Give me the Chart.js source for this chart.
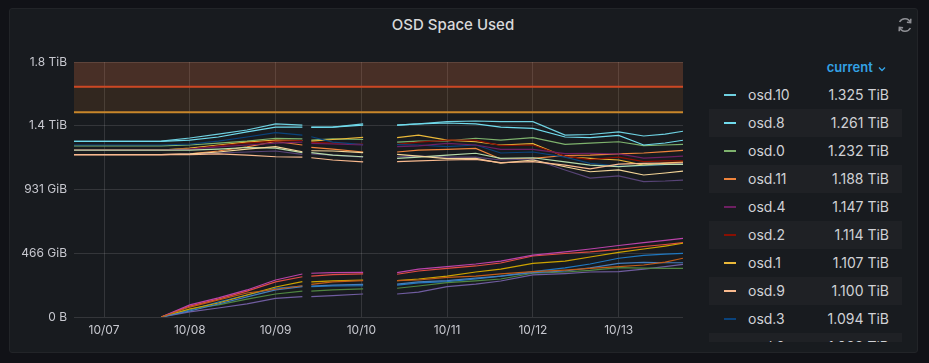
<!DOCTYPE html>
<html lang="en">
<head>
<meta charset="UTF-8">
<title>OSD Space Used</title>
<script src="https://cdn.jsdelivr.net/npm/chart.js"></script>
<style>
  html, body { margin: 0; padding: 0; width: 929px; height: 363px; overflow: hidden; background: #111217; font-family: Inter, "Noto Sans", sans-serif; }
  .panel { position: absolute; left: 9px; top: 8px; width: 907px; height: 343px; background: #181b1f; border: 1px solid #222428; border-radius: 3px; }
  .title { position: absolute; left: 0; top: 15px; width: 906px; height: 20px; line-height: 20px; text-align: center; color: #d8d9da; font-size: 15px; font-weight: 500; }
  .refresh { position: absolute; left: 896px; top: 16px; }
  canvas { position: absolute; left: 0; top: 0; }
  .legend { position: absolute; left: 709px; top: 53px; width: 193px; height: 289px; overflow: hidden; color: #d0d1d6; font-size: 14px; }
  .legend .head { height: 28px; line-height: 28px; text-align: right; padding-right: 16px; color: #33a2e5; font-size: 13px; font-weight: 600; }
  .legend .row { position: relative; height: 28px; line-height: 28px; }
  .legend .row.alt { background: #1f2125; }
  .legend .sw { position: absolute; left: 15px; top: 13px; width: 12px; height: 2px; }
  .legend .name { position: absolute; left: 39px; }
  .legend .val { position: absolute; right: 13px; }
</style>
</head>
<body>
<div class="panel"></div>
<div class="title">OSD Space Used</div>
<svg class="refresh" width="18" height="18" viewBox="0 0 18 18" fill="none" stroke="#8e8f94" stroke-width="1.6">
  <path d="M14.5 6.5 A6 6 0 0 0 3.6 6" />
  <path d="M3.5 11.5 A6 6 0 0 0 14.4 12" />
  <path d="M14.8 2.8 L14.6 6.6 L10.9 6.2" />
  <path d="M3.2 15.2 L3.4 11.4 L7.1 11.8" />
</svg>
<canvas id="chart" width="700" height="363"></canvas>
<div class="legend" id="legend"></div>

<script>
// hours since 10/07 00:00
const times = [-8.4, 4, 16, 24, 32, 40, 48, 55.5, 56.7, 58, 64, 72.5, 77, 82, 88, 96, 104, 111, 120, 129, 136, 144, 151, 157, 162];

// values in TiB, null = no data
const osd0  = [1.220, 1.220, 1.220, 1.227, 1.241, 1.255, 1.275, 1.270, null, 1.262, 1.270, 1.266, null, 1.248, 1.255, 1.257, 1.275, 1.262, 1.280, 1.232, 1.241, 1.250, 1.222, 1.227, 1.232];
const osd1  = [1.191, 1.191, 1.191, 1.205, 1.227, 1.248, 1.262, 1.259, null, 1.255, 1.266, 1.282, null, 1.279, 1.298, 1.262, 1.250, 1.227, 1.237, 1.143, 1.132, 1.120, 1.084, 1.098, 1.107];
const osd10 = [1.253, 1.253, 1.255, 1.277, 1.305, 1.334, 1.377, 1.369, null, 1.355, 1.355, 1.377, null, 1.369, 1.377, 1.393, 1.398, 1.393, 1.393, 1.298, 1.302, 1.320, 1.291, 1.305, 1.325];
const osd11 = [1.158, 1.158, 1.158, 1.163, 1.184, 1.213, 1.252, 1.227, null, 1.210, 1.198, 1.177, null, 1.177, 1.191, 1.196, 1.203, 1.127, 1.132, 1.152, 1.155, 1.163, 1.170, 1.180, 1.188];
const osd12 = [null, null, 0, 0.078, 0.128, 0.185, 0.250, 0.287, null, 0.292, 0.302, 0.307, null, 0.305, 0.328, 0.347, 0.364, 0.385, 0.435, 0.453, 0.464, 0.483, 0.503, 0.517, 0.530];
const osd13 = [null, null, 0, 0.050, 0.107, 0.157, 0.205, 0.221, null, 0.216, 0.221, 0.223, null, 0.228, 0.243, 0.252, 0.271, 0.292, 0.323, 0.350, 0.378, 0.419, 0.439, 0.449, 0.454];
const osd14 = [null, null, 0, 0.086, 0.136, 0.193, 0.264, 0.307, null, 0.312, 0.316, 0.319, null, 0.316, 0.342, 0.359, 0.378, 0.399, 0.442, 0.464, 0.485, 0.510, 0.531, 0.546, 0.561];
const osd15 = [null, null, 0, 0.036, 0.064, 0.093, 0.133, 0.145, null, 0.145, 0.153, 0.164, null, 0.164, 0.178, 0.216, 0.235, 0.257, 0.300, 0.310, 0.321, 0.323, 0.342, 0.360, 0.376];
const osd16 = [null, null, 0, 0.057, 0.086, 0.128, 0.164, 0.185, null, 0.185, 0.193, 0.200, null, 0.205, 0.221, 0.245, 0.257, 0.271, 0.312, 0.321, 0.332, 0.352, 0.349, 0.347, 0.347];
const osd17 = [null, null, 0, 0.057, 0.100, 0.157, 0.214, 0.252, null, 0.250, 0.257, 0.264, null, 0.259, 0.271, 0.292, 0.321, 0.342, 0.383, 0.399, 0.428, 0.461, 0.485, 0.506, 0.526];
const osd18 = [null, null, 0, 0.043, 0.093, 0.143, 0.193, 0.216, null, 0.221, 0.228, 0.233, null, 0.235, 0.250, 0.260, 0.278, 0.292, 0.317, 0.328, 0.350, 0.383, 0.389, 0.387, 0.387];
const osd19 = [null, null, 0, 0.071, 0.121, 0.171, 0.198, 0.223, null, 0.233, 0.250, 0.259, null, 0.259, 0.264, 0.283, 0.292, 0.307, 0.323, 0.335, 0.347, 0.359, 0.371, 0.392, 0.419];
const osd2  = [1.191, 1.191, 1.191, 1.198, 1.220, 1.241, 1.255, 1.259, null, 1.246, 1.241, 1.234, null, 1.232, 1.248, 1.262, 1.262, 1.223, 1.227, 1.148, 1.123, 1.141, 1.108, 1.113, 1.114];
const osd3  = [1.227, 1.227, 1.227, 1.234, 1.255, 1.284, 1.315, 1.298, null, 1.286, 1.248, 1.230, null, 1.230, 1.227, 1.215, 1.227, 1.170, 1.177, 1.141, 1.096, 1.077, 1.077, 1.087, 1.094];
const osd4  = [1.191, 1.191, 1.191, 1.198, 1.213, 1.227, 1.241, 1.248, null, 1.239, 1.234, 1.227, null, 1.215, 1.220, 1.239, 1.227, 1.196, 1.196, 1.166, 1.168, 1.163, 1.134, 1.141, 1.147];
const osd5  = [1.158, 1.158, 1.158, 1.163, 1.170, 1.177, 1.184, 1.160, null, 1.163, 1.155, 1.141, null, 1.143, 1.148, 1.141, 1.141, 1.120, 1.127, 1.049, 0.991, 1.006, 0.966, 0.970, 0.977];
const osd6  = [1.191, 1.191, 1.191, 1.191, 1.198, 1.209, 1.205, 1.172, null, 1.172, 1.155, 1.143, null, 1.132, 1.141, 1.155, 1.168, 1.132, 1.136, 1.106, 1.084, 1.072, 1.084, 1.088, 1.088];
const osd7  = [1.158, 1.158, 1.158, 1.163, 1.177, 1.198, 1.215, 1.179, null, 1.186, 1.184, 1.172, null, 1.160, 1.148, 1.130, 1.132, 1.098, 1.120, 1.072, 1.036, 1.049, 1.013, 1.027, 1.041];
const osd8  = [1.253, 1.253, 1.253, 1.262, 1.284, 1.320, 1.355, 1.355, null, 1.353, 1.355, 1.369, null, 1.369, 1.377, 1.384, 1.377, 1.355, 1.346, 1.284, 1.280, 1.295, 1.227, 1.241, 1.261];
const osd9  = [1.158, 1.158, 1.158, 1.158, 1.163, 1.155, 1.143, 1.141, null, 1.136, 1.120, 1.106, null, 1.108, 1.113, 1.120, 1.125, 1.101, 1.108, 1.084, 1.056, 1.091, 1.096, 1.098, 1.100];

const seriesNames = ['osd.0', 'osd.1', 'osd.10', 'osd.11', 'osd.12', 'osd.13', 'osd.14', 'osd.15', 'osd.16', 'osd.17',
                     'osd.18', 'osd.19', 'osd.2', 'osd.3', 'osd.4', 'osd.5', 'osd.6', 'osd.7', 'osd.8', 'osd.9'];
const seriesValues = [osd0, osd1, osd10, osd11, osd12, osd13, osd14, osd15, osd16, osd17,
                      osd18, osd19, osd2, osd3, osd4, osd5, osd6, osd7, osd8, osd9];
const seriesColors = ['#7EB26D', '#EAB839', '#6ED0E0', '#EF843C', '#E24D42', '#1F78C1', '#BA43A9', '#705DA0', '#508642', '#CCA300',
                      '#447EBC', '#C15C17', '#890F02', '#0A437C', '#6D1F62', '#584477', '#B7DBAB', '#F4D598', '#70DBED', '#F9BA8F'];

// thresholds (TiB)
const warnLevel = 1.460;
const critLevel = 1.643;

// axes
const xMin = -8.4, xMax = 162;
const dayHours  = [0, 24, 48, 72, 96, 120, 144];
const dayLabels = ['10/07', '10/08', '10/09', '10/10', '10/11', '10/12', '10/13'];
const yTickBytes  = [0, 500e9, 1000e9, 1500e9, 2000e9];
const yTickLabels = ['0 B', '466 GiB', '931 GiB', '1.4 TiB', '1.8 TiB'];
const TIB = Math.pow(2, 40);

const datasets = [];
datasets.push({
    label: 'critical',
    data: [{ x: xMin, y: critLevel }, { x: xMax, y: critLevel }],
    borderColor: '#cc4524', borderWidth: 2,
    backgroundColor: 'rgba(247,118,63,0.22)', fill: 'end',
    pointRadius: 0, order: 100
});
datasets.push({
    label: 'warning',
    data: [{ x: xMin, y: warnLevel }, { x: xMax, y: warnLevel }],
    borderColor: '#c8862a', borderWidth: 2,
    backgroundColor: 'rgba(241,135,31,0.12)', fill: 0,
    pointRadius: 0, order: 99
});
seriesNames.forEach((name, i) => {
    datasets.push({
        label: name,
        data: times.map((t, k) => ({ x: t, y: seriesValues[i][k] })),
        borderColor: seriesColors[i],
        borderWidth: 1.2,
        pointRadius: 0,
        fill: false,
        tension: 0,
        spanGaps: false,
        order: 50 - i
    });
});

Chart.defaults.font.family = 'Inter, "Noto Sans", sans-serif';
Chart.defaults.font.size = 12;
Chart.defaults.color = '#c7c8cf';

const gridColor = 'rgba(255,255,255,0.12)';

new Chart(document.getElementById('chart').getContext('2d'), {
    type: 'line',
    data: { datasets: datasets },
    options: {
        responsive: false,
        devicePixelRatio: 1,
        animation: false,
        layout: { padding: { left: 0, right: 17, top: 62, bottom: 0 } },
        plugins: { legend: { display: false }, tooltip: { enabled: false } },
        scales: {
            x: {
                type: 'linear', min: xMin, max: xMax,
                afterBuildTicks: (scale) => { scale.ticks = dayHours.map(v => ({ value: v })); },
                afterFit: (scale) => { scale.height = 46; },
                ticks: { padding: 6, maxRotation: 0, callback: (v, i) => dayLabels[i] },
                grid: { color: gridColor, drawTicks: false },
                border: { display: false }
            },
            y: {
                type: 'linear', min: 0, max: 2000e9 / TIB,
                afterBuildTicks: (scale) => { scale.ticks = yTickBytes.map(b => ({ value: b / TIB })); },
                afterFit: (scale) => { scale.width = 74; },
                ticks: { padding: 7, callback: (v, i) => yTickLabels[i] },
                grid: { color: gridColor, drawTicks: false },
                border: { display: false }
            }
        }
    }
});

// table legend, sorted by current value
const legend = document.getElementById('legend');
let html = '<div class="head">current <svg width="8" height="6" viewBox="0 0 8 6" style="margin-left:2px"><path d="M1 1.5 L4 4.5 L7 1.5" stroke="#33a2e5" stroke-width="1.4" fill="none"/></svg></div>';
seriesNames
    .map((n, i) => ({ name: n, color: seriesColors[i], cur: seriesValues[i][seriesValues[i].length - 1] }))
    .sort((a, b) => b.cur - a.cur)
    .forEach((r, k) => {
        html += '<div class="row' + (k % 2 ? ' alt' : '') + '">' +
            '<span class="sw" style="background:' + r.color + '"></span>' +
            '<span class="name">' + r.name + '</span>' +
            '<span class="val">' + r.cur.toFixed(3) + ' TiB</span></div>';
    });
legend.innerHTML = html;
</script>
</body>
</html>
